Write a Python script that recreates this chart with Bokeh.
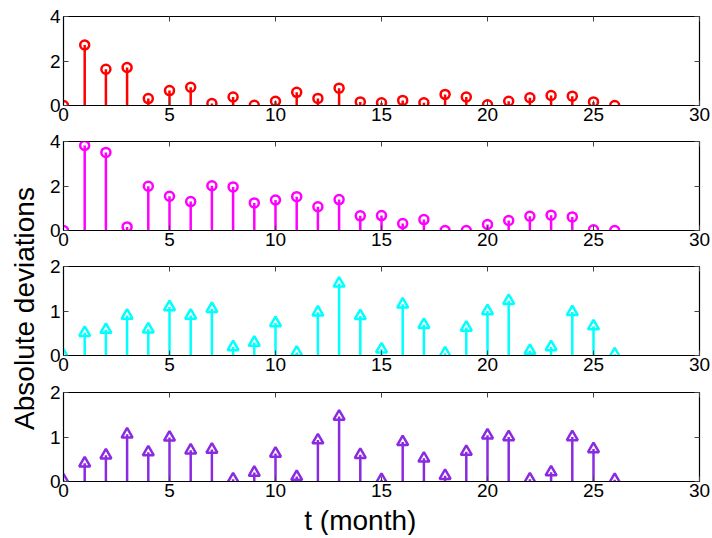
import math
from bokeh.plotting import figure
from bokeh.layouts import column, row
from bokeh.models import Range1d, LinearAxis, FixedTicker, Label
from bokeh.embed import file_html
from bokeh.resources import INLINE

t = list(range(27))
dev_red = [0.0, 2.72, 1.63, 1.71, 0.31, 0.67, 0.82, 0.09, 0.38, 0.01, 0.19, 0.59, 0.32, 0.78,
           0.16, 0.12, 0.23, 0.12, 0.50, 0.38, 0.03, 0.19, 0.35, 0.45, 0.42, 0.16, 0.0]
dev_magenta = [0.0, 3.82, 3.51, 0.16, 1.99, 1.54, 1.30, 2.01, 1.96, 1.24, 1.37, 1.52, 1.07, 1.39,
               0.66, 0.67, 0.31, 0.49, 0.0, 0.0, 0.27, 0.45, 0.64, 0.69, 0.61, 0.03, 0.0]
dev_cyan = [0.0, 0.51, 0.58, 0.90, 0.59, 1.09, 0.90, 1.05, 0.19, 0.29, 0.73, 0.07, 0.97, 1.62,
            0.89, 0.14, 1.15, 0.69, 0.05, 0.63, 1.00, 1.23, 0.11, 0.19, 0.98, 0.66, 0.03]
dev_purple = [0.03, 0.41, 0.59, 1.06, 0.66, 0.99, 0.70, 0.72, 0.05, 0.20, 0.63, 0.11, 0.93, 1.46,
              0.60, 0.04, 0.89, 0.52, 0.13, 0.67, 1.04, 1.00, 0.05, 0.21, 1.00, 0.73, 0.04]

series = [dev_red, dev_magenta, dev_cyan, dev_purple]
colors = ["#FF0000", "#FF00FF", "#00FFFF", "#8A2BE2"]
markers = ["circle", "circle", "triangle", "triangle"]
ymax = [4, 4, 2, 2]
yticks = [[0, 2, 4], [0, 2, 4], [0, 1, 2], [0, 1, 2]]
xticks = [0, 5, 10, 15, 20, 25, 30]
ylabel_text = "Absolute deviations"
xlabel_text = "t (month)"

FONT = "Liberation Sans"
LEFT_W = 44
TOTAL_H = 535
TOP_BORDERS = [16, 12, 12, 13]


def blank_fig(w, h, xr, yr):
    f = figure(width=w, height=h, output_backend="svg", toolbar_location=None,
               x_range=xr, y_range=yr, min_border=0)
    f.axis.visible = False
    f.grid.visible = False
    f.outline_line_color = None
    f.background_fill_color = None
    f.border_fill_color = None
    return f


figs = []
for i in range(4):
    p = figure(frame_width=636, frame_height=89, output_backend="svg", toolbar_location=None,
               x_range=Range1d(0, 30), y_range=Range1d(0, ymax[i]),
               min_border_left=19, min_border_right=12,
               min_border_top=TOP_BORDERS[i], min_border_bottom=24)
    p.background_fill_color = "white"
    p.border_fill_color = "white"
    p.outline_line_color = "black"
    p.outline_line_width = 1.2
    p.grid.visible = False
    for ax in (p.xaxis[0], p.yaxis[0]):
        ax.major_label_text_font = FONT
        ax.major_label_text_font_size = "19px"
        ax.major_label_text_color = "black"
        ax.major_tick_in = 5
        ax.major_tick_out = 0
        ax.minor_tick_in = 0
        ax.minor_tick_out = 0
        ax.major_tick_line_color = "#444444"
        ax.axis_line_color = "black"
    p.xaxis[0].major_label_standoff = 2
    p.yaxis[0].major_label_standoff = 3
    p.xaxis[0].ticker = FixedTicker(ticks=xticks)
    p.yaxis[0].ticker = FixedTicker(ticks=yticks[i])
    # inward ticks on top and right, labels not drawn
    top = LinearAxis(ticker=FixedTicker(ticks=xticks), major_label_text_font_size="1px",
                     major_label_text_color=None, major_label_standoff=0,
                     major_tick_in=5, major_tick_out=0, minor_tick_in=0, minor_tick_out=0,
                     major_tick_line_color="#444444", axis_line_color=None)
    right = LinearAxis(ticker=FixedTicker(ticks=yticks[i]), major_label_text_font_size="1px",
                       major_label_text_color=None, major_label_standoff=0,
                       major_tick_in=5, major_tick_out=0, minor_tick_in=0, minor_tick_out=0,
                       major_tick_line_color="#444444", axis_line_color=None)
    p.add_layout(top, "above")
    p.add_layout(right, "right")

    vals = series[i]
    p.segment(x0=t, y0=[0] * len(t), x1=t, y1=vals, line_color=colors[i], line_width=2.5)
    if markers[i] == "circle":
        p.scatter(t, vals, marker="circle", size=9, fill_color=None,
                  line_color=colors[i], line_width=2.5)
    else:
        p.scatter(t, vals, marker="triangle", size=11, fill_color=None,
                  line_color=colors[i], line_width=2.5)
    figs.append(p)

# bottom strip holding the x label, same horizontal frame as the panels
xl = figure(frame_width=636, frame_height=30, output_backend="svg", toolbar_location=None,
            x_range=Range1d(0, 30), y_range=Range1d(0, 1),
            min_border_left=19, min_border_right=12, min_border_top=0, min_border_bottom=0)
xl.axis.visible = False
xl.grid.visible = False
xl.outline_line_color = None
xl.add_layout(Label(x=14, y=0.5, text=xlabel_text, text_font=FONT, text_font_size="28px",
                    text_align="center", text_baseline="middle", text_color="black"))

# left strip holding the y label
yl = blank_fig(LEFT_W, TOTAL_H, Range1d(0, LEFT_W), Range1d(0, TOTAL_H))
yl.add_layout(Label(x=24, y=TOTAL_H - 308, text=ylabel_text, text_font=FONT,
                    text_font_size="28px", text_align="center", text_baseline="middle",
                    angle=math.pi / 2, text_color="black"))

layout = row(yl, column(*figs, xl, spacing=0), spacing=0)
open("out.html", "w").write(file_html(layout, INLINE))
